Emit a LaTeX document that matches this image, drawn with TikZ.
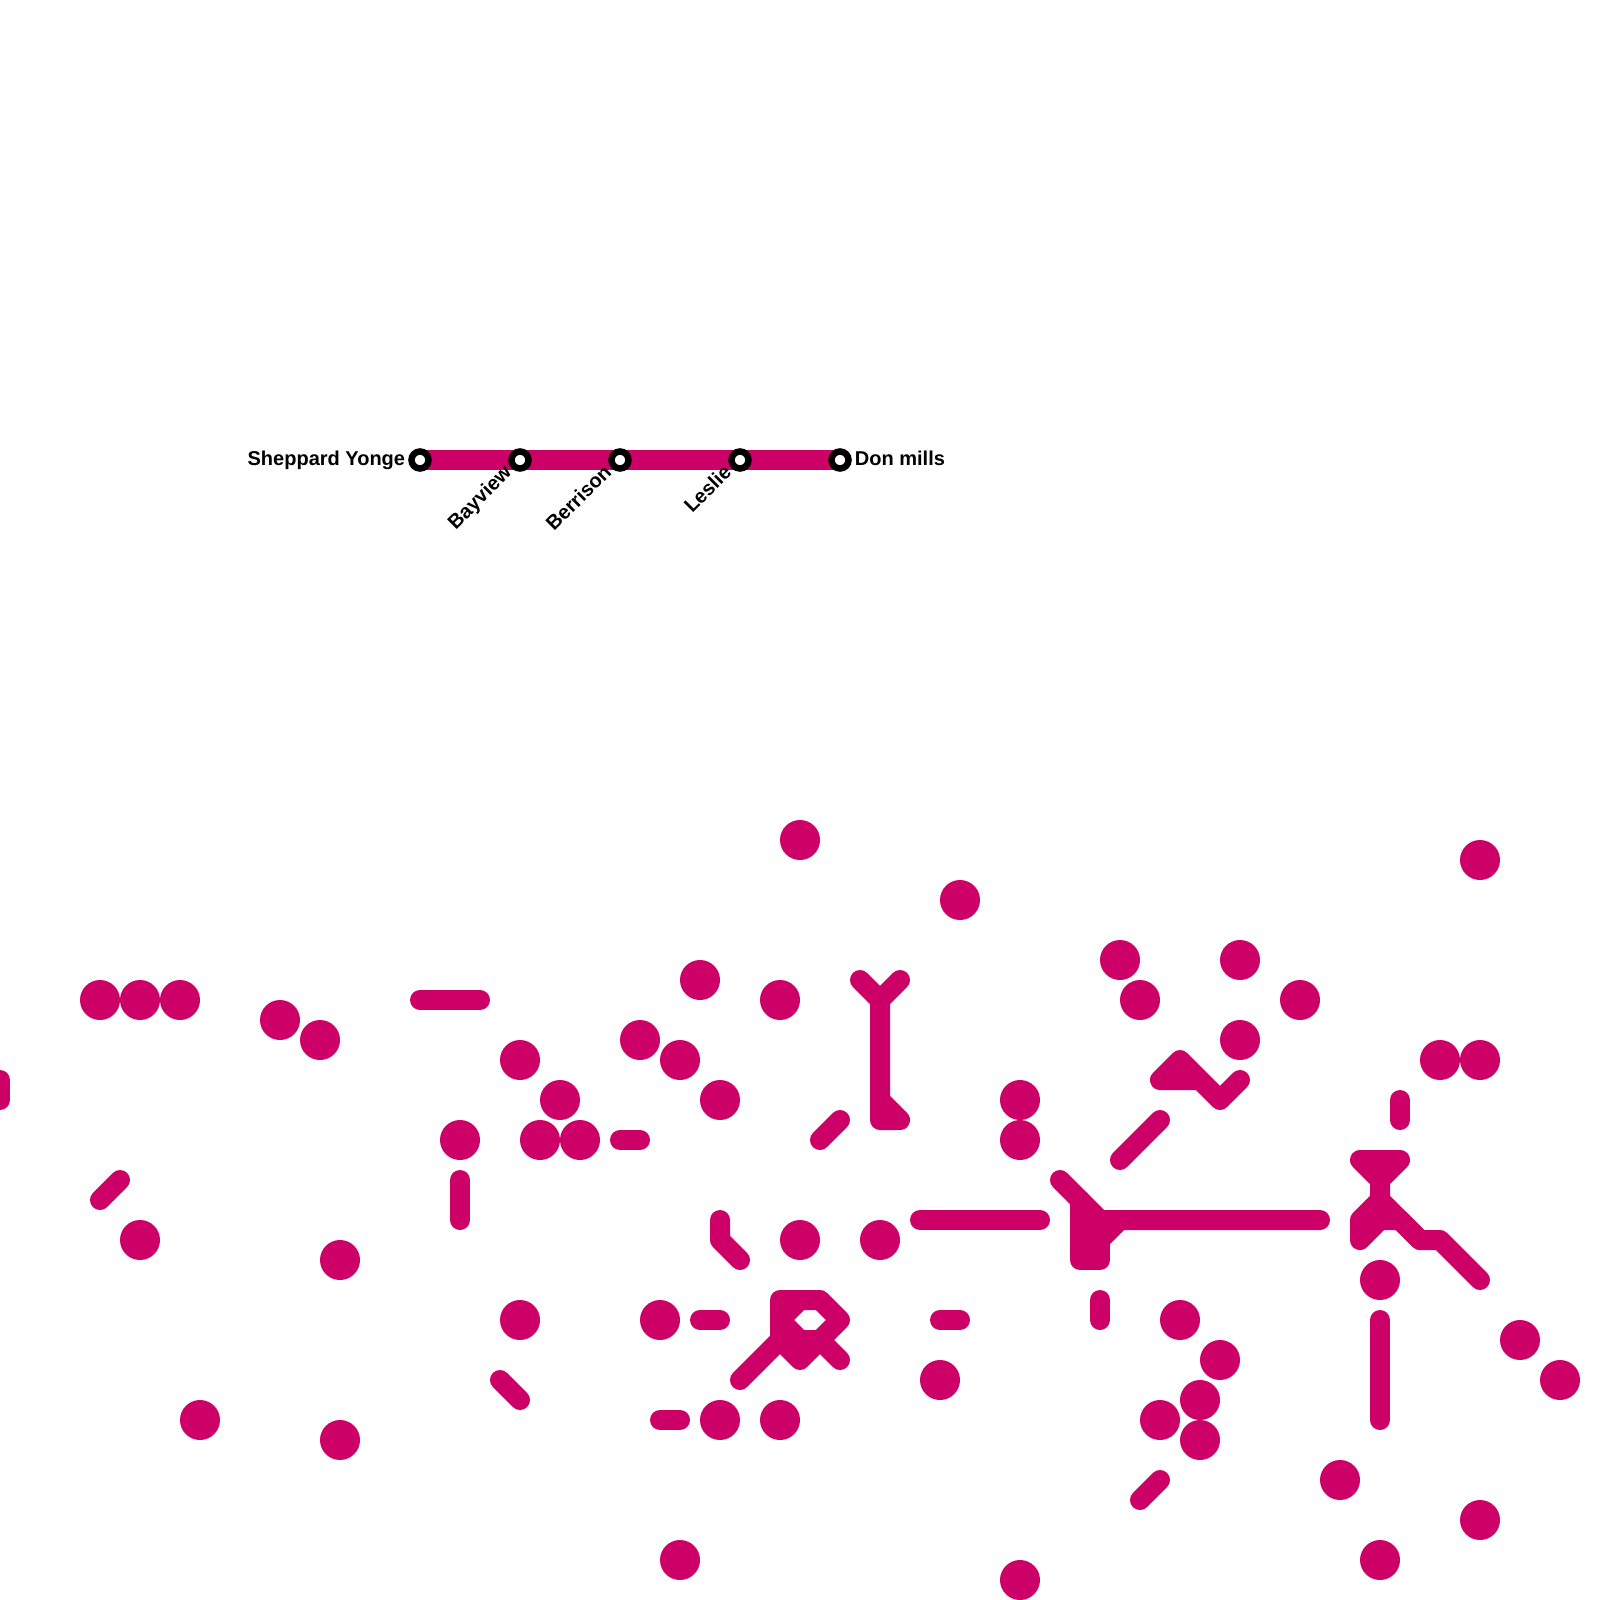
\documentclass[tikz,border=0pt]{standalone}
\usepackage{fontspec}
\setmainfont{Liberation Sans}
\usepackage{tikz}
\usetikzlibrary{positioning}
\definecolor{metro}{HTML}{CC0066}
\begin{document}
\begin{tikzpicture}[
      x=1pt, y=-1pt,
      route/.style={draw=metro, line width=20pt, line cap=round, line join=round},
      dot/.style={circle, fill=metro, minimum size=40pt, inner sep=0pt},
      station/.style={circle, draw=black, line width=6.5pt, fill=white, minimum size=17pt, inner sep=0pt},
      stationname/.style={font=\fontsize{20}{22}\selectfont\bfseries, inner sep=0pt, text=black,
                  text height=14pt, text depth=4pt}
    ]
    \useasboundingbox (0,0) rectangle (1600,1600);
    \draw[route] (0,1080) -- (0,1100);
    \draw[route] (420,1000) -- (480,1000);
    \draw[route] (100,1200) -- (120,1180);
    \draw[route] (460,1180) -- (460,1220);
    \draw[route] (500,1380) -- (520,1400);
    \draw[route] (620,1140) -- (640,1140);
    \draw[route] (700,1320) -- (720,1320);
    \draw[route] (660,1420) -- (680,1420);
    \draw[route] (720,1220) -- (720,1240) -- (740,1260);
    \draw[route] (820,1140) -- (840,1120);
    \draw[route] (860,980) -- (880,1000) -- (900,980);
    \draw[route] (880,1000) -- (880,1120) -- (900,1120) -- (880,1100);
    \draw[route] (920,1220) -- (1040,1220);
    \draw[route] (940,1320) -- (960,1320);
    \draw[route] (1100,1300) -- (1100,1320);
    \draw[route] (1060,1180) -- (1100,1220) -- (1320,1220);
    \draw[route] (1080,1200) -- (1080,1260) -- (1100,1260) -- (1100,1220);
    \draw[route] (1100,1240) -- (1120,1220);
    \draw[route] (1120,1160) -- (1160,1120);
    \draw[route] (1200,1080) -- (1160,1080) -- (1180,1060) -- (1220,1100) -- (1240,1080);
    \draw[route] (780,1320) -- (800,1300);
    \draw[route] (780,1340) -- (780,1300) -- (820,1300) -- (840,1320) -- (800,1360) -- (780,1340) -- (740,1380);
    \draw[route] (780,1320) -- (800,1340) -- (820,1340) -- (840,1360);
    \draw[route] (1400,1100) -- (1400,1120);
    \draw[route] (1380,1180) -- (1360,1160) -- (1400,1160) -- (1380,1180) -- (1380,1220);
    \draw[route] (1380,1200) -- (1360,1220) -- (1360,1240) -- (1380,1220) -- (1400,1220) -- (1420,1240);
    \draw[route] (1380,1200) -- (1420,1240) -- (1440,1240) -- (1480,1280);
    \draw[route] (1380,1320) -- (1380,1420);
    \draw[route] (1140,1500) -- (1160,1480);

    \node[dot] (d1) at (100,1000) {};
    \node[dot] (d2) at (140,1000) {};
    \node[dot] (d3) at (180,1000) {};
    \node[dot] (d4) at (280,1020) {};
    \node[dot] (d5) at (320,1040) {};
    \node[dot] (d6) at (520,1060) {};
    \node[dot] (d7) at (560,1100) {};
    \node[dot] (d8) at (540,1140) {};
    \node[dot] (d9) at (580,1140) {};
    \node[dot] (d10) at (460,1140) {};
    \node[dot] (d11) at (640,1040) {};
    \node[dot] (d12) at (680,1060) {};
    \node[dot] (d13) at (720,1100) {};
    \node[dot] (d14) at (700,980) {};
    \node[dot] (d15) at (780,1000) {};
    \node[dot] (d16) at (800,840) {};
    \node[dot] (d17) at (960,900) {};
    \node[dot] (d18) at (1020,1100) {};
    \node[dot] (d19) at (1020,1140) {};
    \node[dot] (d20) at (1120,960) {};
    \node[dot] (d21) at (1140,1000) {};
    \node[dot] (d22) at (1240,960) {};
    \node[dot] (d23) at (1300,1000) {};
    \node[dot] (d24) at (1240,1040) {};
    \node[dot] (d25) at (1480,860) {};
    \node[dot] (d26) at (1440,1060) {};
    \node[dot] (d27) at (1480,1060) {};
    \node[dot] (d28) at (140,1240) {};
    \node[dot] (d29) at (340,1260) {};
    \node[dot] (d30) at (520,1320) {};
    \node[dot] (d31) at (200,1420) {};
    \node[dot] (d32) at (340,1440) {};
    \node[dot] (d33) at (660,1320) {};
    \node[dot] (d34) at (800,1240) {};
    \node[dot] (d35) at (880,1240) {};
    \node[dot] (d36) at (720,1420) {};
    \node[dot] (d37) at (780,1420) {};
    \node[dot] (d38) at (680,1560) {};
    \node[dot] (d39) at (940,1380) {};
    \node[dot] (d40) at (1020,1580) {};
    \node[dot] (d41) at (1180,1320) {};
    \node[dot] (d42) at (1220,1360) {};
    \node[dot] (d43) at (1200,1400) {};
    \node[dot] (d44) at (1160,1420) {};
    \node[dot] (d45) at (1200,1440) {};
    \node[dot] (d46) at (1380,1280) {};
    \node[dot] (d47) at (1520,1340) {};
    \node[dot] (d48) at (1560,1380) {};
    \node[dot] (d49) at (1340,1480) {};
    \node[dot] (d50) at (1480,1520) {};
    \node[dot] (d51) at (1380,1560) {};

    \coordinate (linestart) at (420,460);
    \coordinate (lineend) at (840,460);
    \draw[route, line cap=butt] (linestart) -- (lineend);
    \node[station] (sheppard) at (linestart) {};
    \node[station] (bayview) at (520,460) {};
    \node[station] (berrison) at (620,460) {};
    \node[station] (leslie) at (740,460) {};
    \node[station] (donmills) at (lineend) {};
    \node[stationname, left=3pt of sheppard] (sheppardname) {Sheppard Yonge};
    \node[stationname, right=3pt of donmills] (donmillsname) {Don mills};
    \node[stationname, rotate=45, anchor=east] (bayviewname) at (509,470) {Bayview};
    \node[stationname, rotate=45, anchor=east] (berrisonname) at (609,470) {Berrison};
    \node[stationname, rotate=45, anchor=east] (lesliename) at (729,470) {Leslie};
  \end{tikzpicture}
\end{document}
